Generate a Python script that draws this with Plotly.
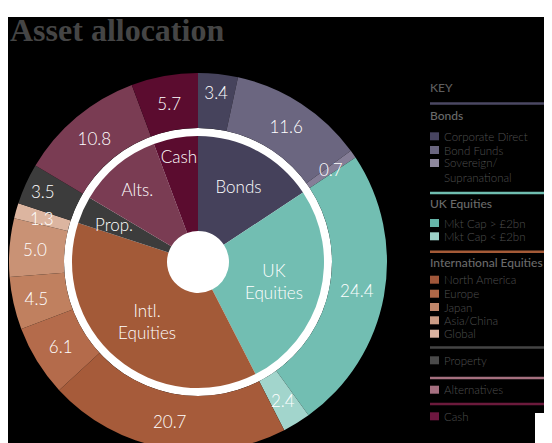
import math
import plotly.graph_objects as go

# ---------------- data ----------------
groups = ["Bonds", "UK Equities", "International Equities", "Property", "Alternatives", "Cash"]
group_text = ["Bonds", "UK<br>Equities", "Intl.<br>Equities", "Prop.", "Alts.", "Cash"]
group_colors = ["#45415b", "#72beb2", "#a35a38", "#3c3c3c", "#7a3c53", "#5b0c2f"]

sub_parent = ["Bonds", "Bonds", "Bonds",
              "UK Equities", "UK Equities",
              "International Equities", "International Equities", "International Equities",
              "International Equities", "International Equities",
              "Property", "Alternatives", "Cash"]
sub_labels = ["Corporate Direct", "Bond Funds", "Sovereign/Supranational",
              "Mkt Cap > £2bn", "Mkt Cap < £2bn",
              "North America", "Europe", "Japan", "Asia/China", "Global",
              "Property ", "Alternatives ", "Cash "]
sub_values = [3.4, 11.6, 0.7,
              24.4, 2.4,
              20.7, 6.1, 4.5, 5.0, 1.3,
              3.5, 10.8, 5.7]
sub_colors = ["#46435c", "#6b6680", "#857e97",
              "#72beb2", "#a2d5cc",
              "#a65b3a", "#b46b4b", "#c0805f", "#c99275", "#dcb5a0",
              "#3c3c3c", "#7a3c53", "#5b0c2f"]

group_values = [round(sum(v for p, v in zip(sub_parent, sub_values) if p == g), 1) for g in groups]

# slices whose labels are too narrow for the pie's own inside text
small_sub = ["Sovereign/Supranational", "Mkt Cap < £2bn", "Global"]
small_group = ["Property"]

# legend (key) content
key_sections = [
    ("Bonds", "#4b4863", [("Corporate Direct", "#474460"), ("Bond Funds", "#6a6680"),
                          ("Sovereign/", "#8e889d"), ("Supranational", None)]),
    ("UK Equities", "#6fbdb0", [("Mkt Cap > £2bn", "#66b5a9"), ("Mkt Cap < £2bn", "#9dd1c8")]),
    ("International Equities", "#a45a37", [("North America", "#a1573a"), ("Europe", "#b06848"),
                                           ("Japan", "#c0866a"), ("Asia/China", "#cc9c85"),
                                           ("Global", "#dbb4a2")]),
    (None, "#444444", [("Property", "#4a4a4a")]),
    (None, "#a5707f", [("Alternatives", "#a56f80")]),
    (None, "#6b1a3c", [("Cash", "#6e1740")]),
]

# ---------------- geometry (pixels) ----------------
W, H = 552, 460
OFF = 8                      # page body margin
CX, CY = 198, 262            # centre in page pixels
R_OUT, R_GAP, R_IN, R_HOLE = 189, 134, 126, 31
R_LAB_OUT, R_LAB_IN = 162, 92


def px(x):
    return (x - OFF) / W


def py(y):
    return 1 - (y - OFF) / H


def dom(r):
    return dict(x=[px(CX - r), px(CX + r)], y=[py(CY + r), py(CY - r)])


def mid_angles(values):
    tot = sum(values)
    out, acc = [], 0.0
    for v in values:
        out.append((acc + v / 2) / tot * 2 * math.pi)
        acc += v
    return out


FONT = "Lato, Roboto, sans-serif"
LABEL_FONT = dict(color="white", size=17, family=FONT, weight=300)

fig = go.Figure()

fig.add_trace(go.Pie(
    values=sub_values, labels=sub_labels, sort=False, direction="clockwise", rotation=0,
    hole=R_GAP / R_OUT, domain=dom(R_OUT),
    marker=dict(colors=sub_colors, line=dict(width=0)),
    texttemplate="%{value:.1f}",
    textposition=["none" if l in small_sub else "inside" for l in sub_labels],
    insidetextorientation="horizontal", textfont=LABEL_FONT,
    hoverinfo="none", showlegend=False,
))

fig.add_trace(go.Pie(
    values=group_values, labels=groups, text=group_text, sort=False, direction="clockwise",
    rotation=0, hole=R_HOLE / R_IN, domain=dom(R_IN),
    marker=dict(colors=group_colors, line=dict(width=0)),
    texttemplate="%{text}",
    textposition=["none" if g in small_group else "inside" for g in groups],
    insidetextorientation="horizontal", textfont=LABEL_FONT,
    hoverinfo="none", showlegend=False,
))

shapes = [
    dict(type="rect", xref="paper", yref="paper", x0=0, x1=1, y0=0, y1=py(17),
         fillcolor="black", line=dict(width=0), layer="below"),
    dict(type="circle", xref="paper", yref="paper",
         x0=px(CX - R_GAP), x1=px(CX + R_GAP), y0=py(CY + R_GAP), y1=py(CY - R_GAP),
         fillcolor="white", line=dict(width=0), layer="below"),
    dict(type="rect", xref="paper", yref="paper", x0=px(535), x1=1, y0=0, y1=py(413),
         fillcolor="white", line=dict(width=0), layer="above"),
]

annotations = [
    dict(text="<b>Asset allocation</b>", x=px(8), y=py(10), xref="paper", yref="paper",
         xanchor="left", yanchor="top", showarrow=False,
         font=dict(family="Liberation Serif, serif", size=32, color="#454545")),
    dict(text="KEY", x=px(428), y=py(87), xref="paper", yref="paper",
         xanchor="left", yanchor="middle", showarrow=False,
         font=dict(family=FONT, size=12, color="#5e5e5e", weight=500)),
]

# labels of the narrow slices, placed on the slice bisector
for lab, ang, val in zip(sub_labels, mid_angles(sub_values), sub_values):
    if lab in small_sub:
        annotations.append(dict(text=f"{val:.1f}", x=px(CX + R_LAB_OUT * math.sin(ang)),
                                y=py(CY - R_LAB_OUT * math.cos(ang)), xref="paper", yref="paper",
                                xanchor="center", yanchor="middle",
                                showarrow=False, font=LABEL_FONT))
for g, ang, txt in zip(groups, mid_angles(group_values), group_text):
    if g in small_group:
        annotations.append(dict(text=txt, x=px(CX + R_LAB_IN * math.sin(ang)),
                                y=py(CY - R_LAB_IN * math.cos(ang)), xref="paper", yref="paper",
                                xanchor="center", yanchor="middle",
                                showarrow=False, font=LABEL_FONT))

# legend layout positions (page px)
line_y = [103.5, 193, 251.7, 347.5, 378, 404]
head_y = [115, 203, 262.5, None, None, None]
item_y = [[136.3, 150, 163, 177.5], [223, 236.3], [279.7, 293.7, 307, 320.3, 333.7],
          [360.3], [389.7], [416.3]]

for (head, lcol, items), ly, hy, iys in zip(key_sections, line_y, head_y, item_y):
    shapes.append(dict(type="rect", xref="paper", yref="paper", x0=px(430), x1=1,
                       y0=py(ly + 1.3), y1=py(ly - 1.3), fillcolor=lcol, line=dict(width=0)))
    if head:
        annotations.append(dict(text=head, x=px(428), y=py(hy), xref="paper", yref="paper",
                                xanchor="left", yanchor="middle", showarrow=False,
                                font=dict(family=FONT, size=12, color="#6a6a6a", weight=500)))
    for (name, col), iy in zip(items, iys):
        if col:
            shapes.append(dict(type="rect", xref="paper", yref="paper", x0=px(430), x1=px(439),
                               y0=py(iy + 4), y1=py(iy - 4), fillcolor=col, line=dict(width=0)))
        annotations.append(dict(text=name, x=px(442), y=py(iy), xref="paper", yref="paper",
                                xanchor="left", yanchor="middle", align="left", showarrow=False,
                                font=dict(family=FONT, size=11.5, color="#4f4f4f", weight=300)))

fig.update_layout(
    width=W, height=H, margin=dict(l=0, r=0, t=0, b=0),
    paper_bgcolor="white", plot_bgcolor="white", showlegend=False,
    uniformtext=dict(minsize=17, mode="show"),
    shapes=shapes, annotations=annotations,
)

fig.write_html("out.html")
